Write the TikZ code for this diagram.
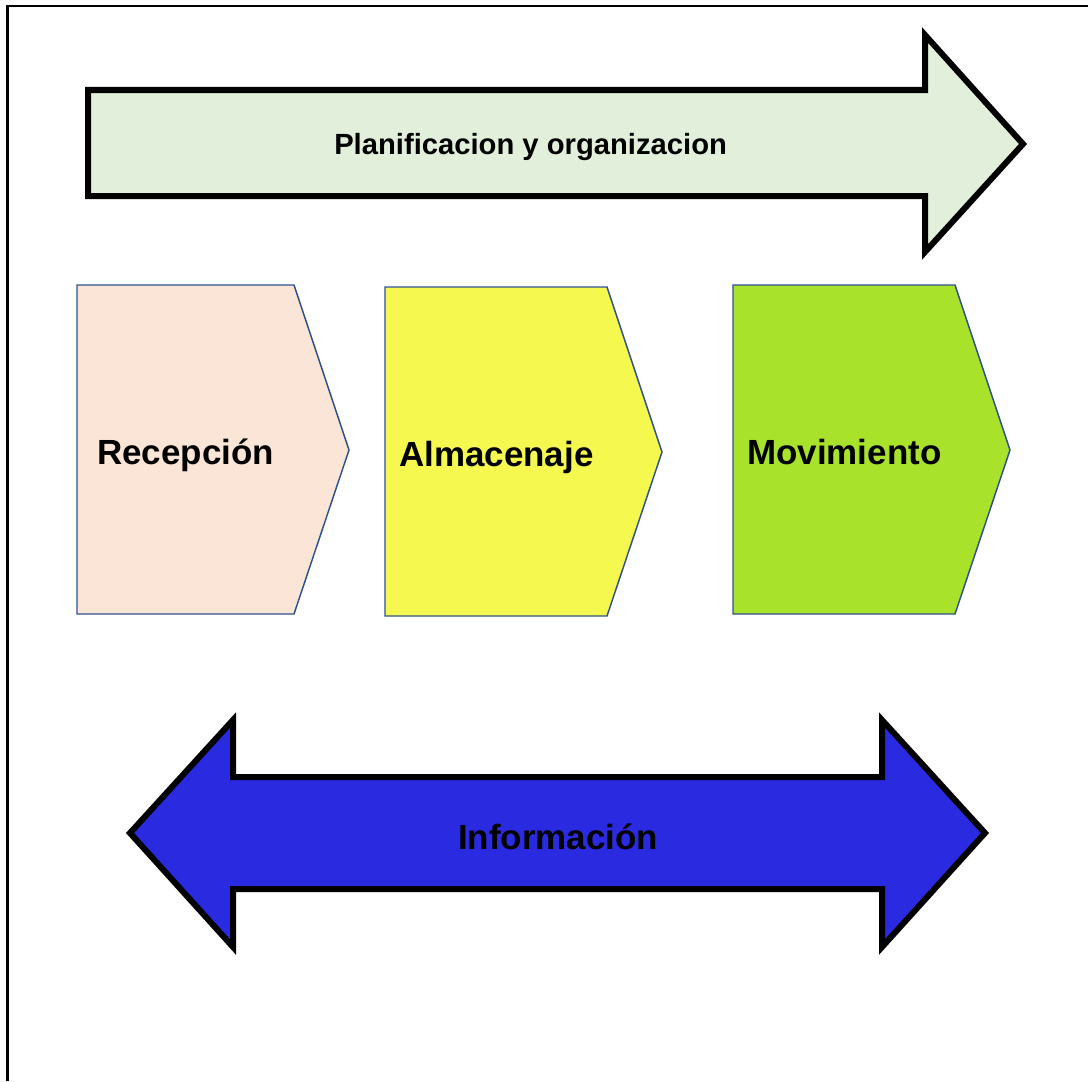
\documentclass[tikz,border=0pt]{standalone}
\usepackage{fontspec}
\setmainfont{Liberation Sans}
\definecolor{lgreen}{HTML}{E2EFDA}
\definecolor{peach}{HTML}{FBE5D6}
\definecolor{yel}{HTML}{F5F94F}
\definecolor{grn}{HTML}{A9E22A}
\definecolor{blu}{HTML}{2A2AE0}
\definecolor{pstroke}{HTML}{2F528F}
\begin{document}
\begin{tikzpicture}[x=0.75pt,y=-0.75pt,
  bigarrow/.style={draw=black,line width=4.5pt,miter limit=10,line join=miter},
  penta/.style={draw=pstroke,line width=1.1pt,line join=miter},
  lbl/.style={anchor=base west,inner sep=0pt,font=\bfseries\fontsize{26.2pt}{30pt}\selectfont}]
\useasboundingbox (0,0) rectangle (1088,1081);
% frame
\draw[line width=1.6pt] (7.5,1081) -- (7.5,6) -- (1088,6);
% top arrow
\draw[bigarrow,fill=lgreen] (88,90) -- (925,90) -- (925,35) -- (1023,144) -- (925,252) -- (925,196) -- (88,196) -- cycle;
\node[lbl,font=\bfseries\fontsize{21.9pt}{25pt}\selectfont] (plan) at (334,154) {Planificacion y organizacion};
% pentagons
\draw[penta,fill=peach] (77,285) -- (294,285) -- (349,450) -- (294,614) -- (77,614) -- cycle;
\draw[penta,fill=yel] (385,287) -- (607,287) -- (662,452) -- (607,616) -- (385,616) -- cycle;
\draw[penta,fill=grn] (733,285) -- (955,285) -- (1010,450) -- (955,614) -- (733,614) -- cycle;
\node[lbl] (rec) at (97,464) {Recepción};
\node[lbl] (alm) at (399,466) {Almacenaje};
\node[lbl] (mov) at (747,464) {Movimiento};
% bottom double arrow
\draw[bigarrow,fill=blu] (130,833) -- (233,720) -- (233,777) -- (882,777) -- (882,720) -- (985,833) -- (882,947) -- (882,889) -- (233,889) -- (233,947) -- cycle;
\node[lbl] (info) at (458,849) {Información};
\end{tikzpicture}
\end{document}
